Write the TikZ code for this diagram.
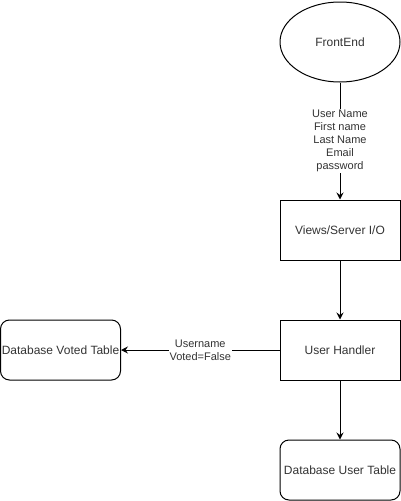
\documentclass[tikz,border=0pt]{standalone}
\usepackage{fontspec}
\setmainfont{Liberation Sans}
\usetikzlibrary{arrows.meta,shapes.geometric}
\begin{document}
\begin{tikzpicture}[x=1pt, y=-1pt, line width=1pt,
                    Box/.style={draw, minimum width=120pt, minimum height=60pt, inner sep=0,
                                font=\fontsize{12}{14}\selectfont, text=black!80},
                    DataBase/.style={Box, rounded corners=9pt},
                    arrow/.style={-{Stealth[length=7pt,width=7pt,inset=2.5pt]}},
                    arrow_label/.style={midway, fill=white, inner sep=1pt, align=center,
                                        font=\fontsize{11}{13}\selectfont, text=black!80}
                    ]
        \useasboundingbox (0,0) rectangle (401,501);
        \node[draw, ellipse, minimum width=120pt, minimum height=80pt, inner sep=0,
              font=\fontsize{12}{14}\selectfont, text=black!80] (FrontEnd) at (340,42) {FrontEnd};
        \node[Box] (Views) at (340,230) {Views/Server I/O};
        \node[Box] (Handler) at (340,350) {User Handler};
        \node[DataBase] (Voted) at (60.5,350) {Database Voted Table};
        \node[DataBase] (Users) at (340,470) {Database User Table};

        \draw[arrow] (FrontEnd) -- (Views) node[arrow_label] {User Name\\First name\\Last Name\\Email\\password};
        \draw[arrow] (Views) -- (Handler);
        \draw[arrow] (Handler) -- (Voted) node[arrow_label] {Username\\Voted=False};
        \draw[arrow] (Handler) -- (Users);
    \end{tikzpicture}
\end{document}
